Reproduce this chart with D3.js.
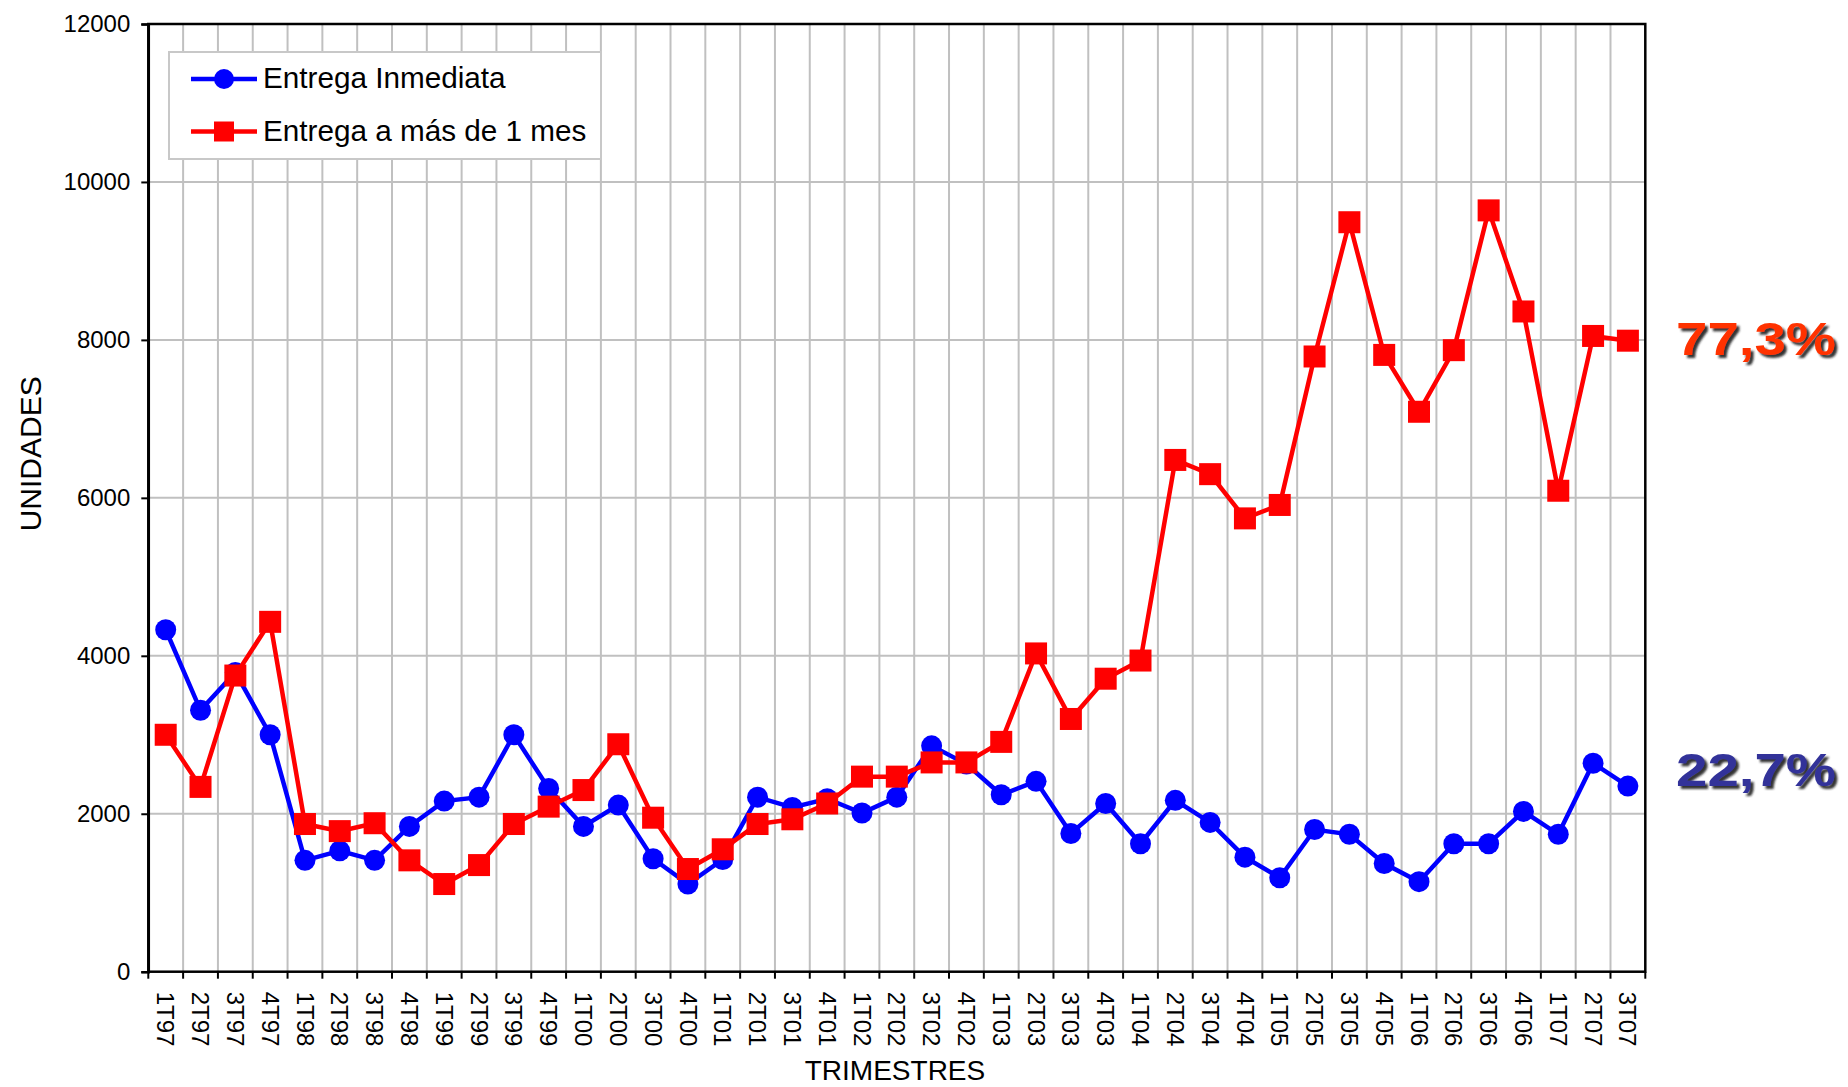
<!DOCTYPE html>
<html>
<head>
<meta charset="utf-8">
<script src="https://cdn.jsdelivr.net/npm/d3@7"></script>
<style>
  body { margin: 0; background: #fff; }
  text { font-family: "Liberation Sans", Arial, sans-serif; }
</style>
</head>
<body>
<div id="chart"></div>
<script>
// quarters
const trimestres = [
  '1T97','2T97','3T97','4T97','1T98','2T98','3T98','4T98',
  '1T99','2T99','3T99','4T99','1T00','2T00','3T00','4T00',
  '1T01','2T01','3T01','4T01','1T02','2T02','3T02','4T02',
  '1T03','2T03','3T03','4T03','1T04','2T04','3T04','4T04',
  '1T05','2T05','3T05','4T05','1T06','2T06','3T06','4T06',
  '1T07','2T07','3T07'
];

const entregaInmediata = [
  4330, 3310, 3790, 3000, 1410, 1530, 1410, 1840,
  2160, 2210, 3000, 2320, 1840, 2110, 1430, 1110,
  1420, 2210, 2080, 2190, 2010, 2210, 2860, 2630,
  2240, 2410, 1750, 2130, 1620, 2170, 1890, 1450,
  1190, 1800, 1740, 1370, 1140, 1620, 1620, 2030,
  1740, 2640, 2350
];

const entregaMasMes = [
  3000, 2340, 3750, 4430, 1870, 1780, 1880, 1410,
  1110, 1350, 1870, 2090, 2300, 2880, 1950, 1300,
  1550, 1870, 1930, 2130, 2470, 2470, 2650, 2650,
  2910, 4030, 3200, 3710, 3940, 6480, 6300, 5740,
  5910, 7790, 9490, 7810, 7090, 7870, 9640, 8360,
  6090, 8050, 7990
];

const seriesNames = ['Entrega Inmediata', 'Entrega a más de 1 mes'];
const shareLabels = ['22,7%', '77,3%'];
const yTicks = [0, 2000, 4000, 6000, 8000, 10000, 12000];

const width = 1848;
const height = 1087;
const margin = { top: 24, right: 202.7, bottom: 115.3, left: 148.3 };

const svg = d3.select('#chart')
  .append('svg')
  .attr('width', width)
  .attr('height', height);

const defs = svg.append('defs');
const shadow = defs.append('filter')
  .attr('id', 'shadow')
  .attr('x', '-10%').attr('y', '-20%')
  .attr('width', '130%').attr('height', '150%');
shadow.append('feDropShadow')
  .attr('dx', 3).attr('dy', 3)
  .attr('stdDeviation', 1.2)
  .attr('flood-color', '#1a1a1a')
  .attr('flood-opacity', 0.9);

const x = d3.scaleBand()
  .domain(trimestres)
  .range([margin.left, width - margin.right])
  .padding(0);

const y = d3.scaleLinear()
  .domain([0, 12000])
  .range([height - margin.bottom, margin.top]);

const cx = (d) => x(d) + x.bandwidth() / 2;
const x0 = margin.left;
const x1 = width - margin.right;
const yBottom = y(0);
const yTop = y(12000);

// grid
const grid = svg.append('g').attr('class', 'grid');
grid.selectAll('line.v')
  .data(trimestres.slice(1))
  .enter()
  .append('line')
  .attr('class', 'v')
  .attr('x1', (d) => x(d)).attr('x2', (d) => x(d))
  .attr('y1', yTop).attr('y2', yBottom)
  .attr('stroke', '#c0c0c0')
  .attr('stroke-width', 2);

grid.selectAll('line.h')
  .data(yTicks.slice(1, -1))
  .enter()
  .append('line')
  .attr('class', 'h')
  .attr('x1', x0).attr('x2', x1)
  .attr('y1', (d) => y(d)).attr('y2', (d) => y(d))
  .attr('stroke', '#c0c0c0')
  .attr('stroke-width', 2);

// plot frame
svg.append('rect')
  .attr('x', x0).attr('y', yTop)
  .attr('width', x1 - x0).attr('height', yBottom - yTop)
  .attr('fill', 'none')
  .attr('stroke', '#000')
  .attr('stroke-width', 2.5);

// y axis
const yAxis = svg.append('g')
  .attr('transform', `translate(${x0},0)`)
  .call(d3.axisLeft(y).tickValues(yTicks).tickSize(7).tickPadding(11).tickFormat(d3.format('d')));
yAxis.select('.domain').attr('stroke-width', 2.5);
yAxis.selectAll('.tick line').attr('stroke-width', 2);
yAxis.selectAll('.tick text')
  .attr('font-size', 24)
  .attr('fill', '#000')
  .attr('font-family', '"Liberation Sans", Arial, sans-serif');

// x axis ticks at band edges
const xTicks = svg.append('g').attr('class', 'xticks');
xTicks.selectAll('line')
  .data(trimestres)
  .enter()
  .append('line')
  .attr('x1', (d) => x(d)).attr('x2', (d) => x(d))
  .attr('y1', yBottom).attr('y2', yBottom + 7)
  .attr('stroke', '#000')
  .attr('stroke-width', 2);
xTicks.append('line')
  .attr('x1', x1).attr('x2', x1)
  .attr('y1', yBottom).attr('y2', yBottom + 7)
  .attr('stroke', '#000')
  .attr('stroke-width', 2);

xTicks.selectAll('text')
  .data(trimestres)
  .enter()
  .append('text')
  .attr('transform', (d) => `translate(${cx(d)},${yBottom + 20}) rotate(90)`)
  .attr('dy', '0.35em')
  .attr('font-size', 24)
  .attr('text-anchor', 'start')
  .text((d) => d);

// axis titles
svg.append('text')
  .attr('transform', `translate(41,${(yTop + yBottom) / 2 - 44}) rotate(-90)`)
  .attr('text-anchor', 'middle')
  .attr('font-size', 30)
  .text('UNIDADES');

svg.append('text')
  .attr('x', 895)
  .attr('y', 1080)
  .attr('text-anchor', 'middle')
  .attr('font-size', 28)
  .text('TRIMESTRES');

// series
const series = [
  { name: seriesNames[0], values: entregaInmediata, color: '#0000ff', shape: 'circle' },
  { name: seriesNames[1], values: entregaMasMes, color: '#ff0000', shape: 'square' },
];

const line = d3.line()
  .x((d, i) => cx(trimestres[i]))
  .y((d) => y(d));

series.forEach((s) => {
  const g = svg.append('g').attr('class', 'series');
  g.append('path')
    .datum(s.values)
    .attr('d', line)
    .attr('fill', 'none')
    .attr('stroke', s.color)
    .attr('stroke-width', 4.5)
    .attr('stroke-linejoin', 'miter');

  if (s.shape === 'circle') {
    g.selectAll('circle')
      .data(s.values)
      .enter()
      .append('circle')
      .attr('cx', (d, i) => cx(trimestres[i]))
      .attr('cy', (d) => y(d))
      .attr('r', 10.5)
      .attr('fill', s.color);
  } else {
    g.selectAll('rect')
      .data(s.values)
      .enter()
      .append('rect')
      .attr('x', (d, i) => cx(trimestres[i]) - 11)
      .attr('y', (d) => y(d) - 11)
      .attr('width', 22)
      .attr('height', 22)
      .attr('fill', s.color);
  }
});

// legend
const legend = svg.append('g').attr('class', 'legend');
legend.append('rect')
  .attr('x', 169).attr('y', 52)
  .attr('width', 432).attr('height', 107)
  .attr('fill', '#fff')
  .attr('stroke', '#c8c8c8')
  .attr('stroke-width', 2);

series.forEach((s, i) => {
  const ly = 79 + i * 52.5;
  legend.append('line')
    .attr('x1', 191).attr('x2', 257)
    .attr('y1', ly).attr('y2', ly)
    .attr('stroke', s.color)
    .attr('stroke-width', 4.5);
  if (s.shape === 'circle') {
    legend.append('circle').attr('cx', 224).attr('cy', ly).attr('r', 10).attr('fill', s.color);
  } else {
    legend.append('rect').attr('x', 214).attr('y', ly - 10).attr('width', 20).attr('height', 20).attr('fill', s.color);
  }
  legend.append('text')
    .attr('x', 263)
    .attr('y', ly + 9)
    .attr('font-size', 29.7)
    .text(s.name);
});

// share labels at the right
const shareColors = ['#333399', '#ff3300'];
const shareOffsets = [-16, -2];
series.forEach((s, i) => {
  const last = s.values[s.values.length - 1];
  svg.append('text')
    .attr('x', 1676)
    .attr('y', y(last) + shareOffsets[i])
    .attr('dy', '0.35em')
    .attr('font-size', 46)
    .attr('font-weight', 'bold')
    .attr('textLength', 160)
    .attr('lengthAdjust', 'spacingAndGlyphs')
    .attr('fill', shareColors[i])
    .attr('filter', 'url(#shadow)')
    .text(shareLabels[i]);
});
</script>
</body>
</html>
